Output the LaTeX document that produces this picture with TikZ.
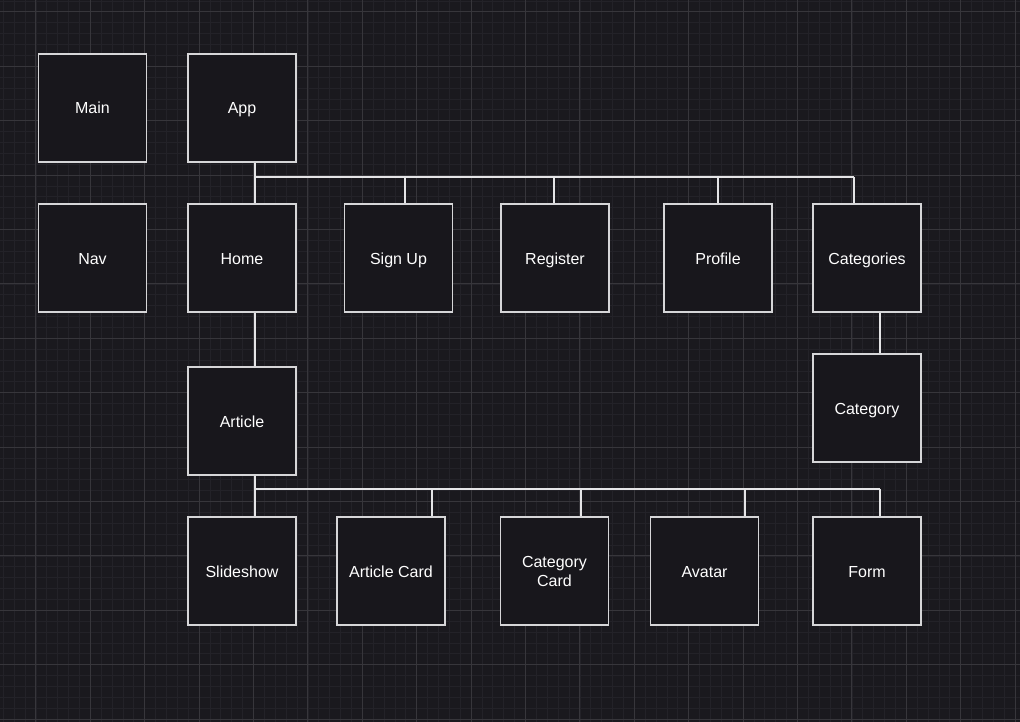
\documentclass[tikz,border=0pt]{standalone}
\usepackage{fontspec}
\setmainfont{Liberation Sans}
\definecolor{bg}{HTML}{1A191E}
\definecolor{boxfill}{HTML}{18171C}
\definecolor{minorgrid}{HTML}{232228}
\definecolor{majorgrid}{HTML}{37363B}
\definecolor{edge}{HTML}{D6D6D8}
\definecolor{wire}{HTML}{E4E4E6}
\begin{document}
\begin{tikzpicture}[x=1pt,y=-1pt,
  compbase/.style={draw=edge, line width=1.3pt, fill=boxfill, minimum width=108pt, minimum height=108pt,
    inner sep=0pt, text=white, font=\fontsize{16}{19}\selectfont, align=center},
  comp/.style={compbase, text height=15pt, text depth=3pt},
  wirestyle/.style={draw=wire, line width=1.2pt}]
\useasboundingbox (0,0) rectangle (1020,722);
\fill[bg] (0,0) rectangle (1020,722);
% grid
\begin{scope}
\clip (0,0) rectangle (1020,722);
\foreach \i in {-3,...,90} {\draw[minorgrid, line width=0.8pt] ({35.9+10.88*\i},0) -- ({35.9+10.88*\i},722);}
\foreach \j in {-1,...,66} {\draw[minorgrid, line width=0.8pt] (0,{11.9+10.88*\j}) -- (1020,{11.9+10.88*\j});}
\foreach \i in {-1,...,18} {\draw[majorgrid, line width=1pt] ({35.9+54.4*\i},0) -- ({35.9+54.4*\i},722);}
\foreach \j in {0,...,13} {\draw[majorgrid, line width=1pt] (0,{11.9+54.4*\j}) -- (1020,{11.9+54.4*\j});}
\end{scope}
% nodes
\node[comp] (main) at (92.5,108) {Main};
\node[comp] (app) at (242,108) {App};
\node[comp] (nav) at (92.5,258) {Nav};
\node[comp] (home) at (242,258) {Home};
\node[comp] (signup) at (398.5,258) {Sign Up};
\node[comp] (register) at (555,258) {Register};
\node[comp] (profile) at (718,258) {Profile};
\node[comp] (categories) at (867,258) {Categories};
\node[comp] (category) at (867,408) {Category};
\node[comp] (article) at (242,421) {Article};
\node[comp] (slideshow) at (242,571) {Slideshow};
\node[comp] (articlecard) at (391,571) {Article Card};
\node[compbase] (categorycard) at (554.5,571) {Category\\Card};
\node[comp] (avatar) at (704.5,571) {Avatar};
\node[comp] (form) at (867,571) {Form};
% top bus
\coordinate (t1) at (255,177);
\coordinate (t2) at (405,177);
\coordinate (t3) at (554,177);
\coordinate (t4) at (718,177);
\coordinate (t5) at (854,177);
\draw[wirestyle] (app.south -| t1) -- (home.north -| t1);
\draw[wirestyle] (t1) -- (t5);
\draw[wirestyle] (t2) -- (signup.north -| t2);
\draw[wirestyle] (t3) -- (register.north -| t3);
\draw[wirestyle] (t4) -- (profile.north -| t4);
\draw[wirestyle] (t5) -- (categories.north -| t5);
% home -> article, categories -> category
\coordinate (h1) at (255,340);
\draw[wirestyle] (home.south -| h1) -- (article.north -| h1);
\coordinate (c1) at (880,333);
\draw[wirestyle] (categories.south -| c1) -- (category.north -| c1);
% bottom bus
\coordinate (u1) at (255,489);
\coordinate (u2) at (432,489);
\coordinate (u3) at (581,489);
\coordinate (u4) at (745,489);
\coordinate (u5) at (880,489);
\draw[wirestyle] (article.south -| u1) -- (slideshow.north -| u1);
\draw[wirestyle] (u1) -- (u5);
\draw[wirestyle] (u2) -- (articlecard.north -| u2);
\draw[wirestyle] (u3) -- (categorycard.north -| u3);
\draw[wirestyle] (u4) -- (avatar.north -| u4);
\draw[wirestyle] (u5) -- (form.north -| u5);
\end{tikzpicture}
\end{document}
